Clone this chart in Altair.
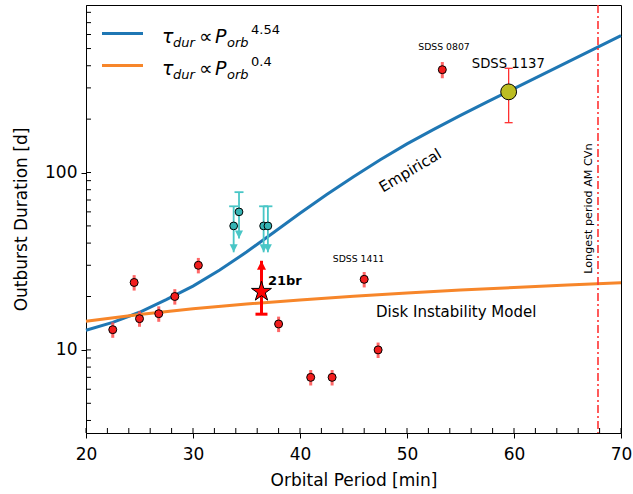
import altair as alt
import pandas as pd

# ---------------- data ----------------
curve_P = [20, 22.5, 25, 27.5, 30, 32.5, 35, 37.5, 40, 42.5, 45, 47.5, 50,
           52.5, 55, 57.5, 60, 62.5, 65, 67.5, 70]
empirical_tau = [12.9, 14.3, 16.3, 19.2, 22.9, 28.2, 35.6, 45.8, 58.9, 75.2, 94.8,
                 118, 145, 175, 210, 250, 297, 353, 419, 498, 592]
dim_P = [20, 25, 30, 35, 40, 45, 50, 55, 60, 65, 70]
dim_tau = [14.5, 15.85, 17.05, 18.14, 19.13, 20.06, 20.92, 21.73, 22.50, 23.23, 23.93]

obs_P = [22.5, 24.5, 25.0, 26.8, 28.3, 30.5, 38.0, 41.0, 43.0, 46.0, 47.3, 53.3]
obs_tau = [13, 24, 15, 16, 20, 30, 14, 7, 7, 25, 10, 380]
obs_err = [1.3, 2.4, 1.5, 1.6, 2.0, 3.0, 1.4, 0.7, 0.7, 2.5, 1.0, 40]

lim_P = [33.8, 34.3, 36.6, 37.0]
lim_tau = [50, 60, 50, 50]
lim_err = [14.5, 17.5, 14.5, 14.5]

star_P = [36.4]
star_tau = [21.3]
star_lo = [15.9]
star_hi = [31.8]

s1137_P = [59.5]
s1137_tau = [285]
s1137_lo = [191]
s1137_hi = [387]

amcvn_P = [67.85]

x_major = [20, 30, 40, 50, 60, 70]
x_minor = [20, 22, 24, 26, 28, 30, 32, 34, 36, 38, 40, 42, 44, 46, 48, 50,
           52, 54, 56, 58, 60, 62, 64, 66, 68, 70]
y_major = [10, 100]
y_minor = [4, 5, 6, 7, 8, 9, 10, 20, 30, 40, 50, 60, 70, 80, 90, 100,
           200, 300, 400, 500, 600, 700, 800]

ann_text = ["SDSS 0807", "SDSS 1137", "SDSS 1411", "21br", "Empirical",
            "Disk Instability Model", "Longest period AM CVn"]
ann_P = [53.46, 59.47, 45.47, 37.0, 50.3, 47.1, 67.0]
ann_tau = [489, 390, 31.5, 23.3, 102.6, 15.4, 62.6]

# ---------------- tables ----------------
emp = pd.DataFrame({"P": curve_P, "tau": empirical_tau})
dim = pd.DataFrame({"P": dim_P, "tau": dim_tau})
obs = pd.DataFrame({"P": obs_P, "tau": obs_tau, "err": obs_err})
obs["lo"] = obs["tau"] - obs["err"]
obs["hi"] = obs["tau"] + obs["err"]
lim = pd.DataFrame({"P": lim_P, "tau": lim_tau, "err": lim_err})
lim["lo"] = lim["tau"] - lim["err"]
lim["hi"] = lim["tau"] + lim["err"]
star = pd.DataFrame({"P": star_P, "tau": star_tau, "lo": star_lo, "hi": star_hi})
s1137 = pd.DataFrame({"P": s1137_P, "tau": s1137_tau, "lo": s1137_lo, "hi": s1137_hi})
amcvn = pd.DataFrame({"P": amcvn_P})
xmin_df = pd.DataFrame({"P": x_minor})
ymin_df = pd.DataFrame({"tau": y_minor})
ann = pd.DataFrame({"P": ann_P, "tau": ann_tau, "label": ann_text})
one = pd.DataFrame({"a": [0]})

FONT = "DejaVu Sans"
W, H = 535, 428
xs = alt.Scale(domain=[20, 70], nice=False, zero=False, padding=0)
ys = alt.Scale(type="log", domain=[3.4, 880], nice=False, padding=0)

STAR = ("M0,-1L0.2245,-0.309L0.9511,-0.309L0.3633,0.118L0.5878,0.809L0,0.382"
        "L-0.5878,0.809L-0.3633,0.118L-0.9511,-0.309L-0.2245,-0.309Z")

x_axis = alt.Axis(values=x_major, format="d", title="Orbital Period [min]", grid=False,
                  labelFont=FONT, titleFont=FONT, labelFontSize=17, titleFontSize=17,
                  titleFontWeight="normal", labelColor="black", titleColor="black",
                  domainColor="black", tickColor="black", tickSize=5, tickWidth=1,
                  labelPadding=8, titlePadding=10, labelFlush=False)
y_axis = alt.Axis(values=y_major, format="d", title="Outburst Duration [d]", grid=False,
                  labelFont=FONT, titleFont=FONT, labelFontSize=17, titleFontSize=17,
                  titleFontWeight="normal", labelColor="black", titleColor="black",
                  domainColor="black", tickColor="black", tickSize=5, tickWidth=1,
                  labelPadding=4, titlePadding=14, labelFlush=False)


def X(f="P"):
    return alt.X(f"{f}:Q", scale=xs, axis=x_axis, title="Orbital Period [min]")


def Y(f="tau"):
    return alt.Y(f"{f}:Q", scale=ys, axis=y_axis, title="Outburst Duration [d]")


BLUE = "#1f77b4"
ORANGE = "#f7862a"

# lines
emp_line = alt.Chart(emp).mark_line(color=BLUE, strokeWidth=3).encode(x=X(), y=Y())
dim_line = alt.Chart(dim).mark_line(color=ORANGE, strokeWidth=3).encode(x=X(), y=Y())

vline = alt.Chart(amcvn).mark_rule(color="#ff3333", strokeWidth=1.6,
                                   strokeDash=[8, 3, 2, 3]).encode(x=X())

# observed outbursts
obs_bar = alt.Chart(obs).mark_rule(color="#ff4d4d", strokeWidth=3, opacity=0.85).encode(
    x=X(), y=Y("lo"), y2="hi")
obs_pts = alt.Chart(obs).mark_point(shape="circle", filled=True, fill="#f21d1d",
                                    stroke="black", strokeWidth=1, size=64,
                                    opacity=1).encode(x=X(), y=Y())

# upper limits (cyan)
CY = "#49c6c6"
lim_bar = alt.Chart(lim).mark_rule(color=CY, strokeWidth=1.8).encode(
    x=X(), y=Y("lo"), y2="hi")
lim_cap = alt.Chart(lim).mark_point(shape="M -1 0 L 1 0", filled=False, stroke=CY,
                                    strokeWidth=1.8, size=81, opacity=1).encode(
    x=X(), y=Y("hi"))
lim_arrow = alt.Chart(lim).mark_point(shape="M -1 -1 L 1 -1 L 0 1 Z", filled=True,
                                      fill=CY, strokeWidth=0, size=64, opacity=1,
                                      yOffset=-4).encode(x=X(), y=Y("lo"))
lim_pts = alt.Chart(lim).mark_point(shape="circle", filled=True, fill="#35b4b4",
                                    stroke="black", strokeWidth=1, size=60,
                                    opacity=1).encode(x=X(), y=Y())

# SDSS 1137
s_bar = alt.Chart(s1137).mark_rule(color="#ff3030", strokeWidth=1.3).encode(
    x=X(), y=Y("lo"), y2="hi")
s_cap_lo = alt.Chart(s1137).mark_point(shape="M -1 0 L 1 0", filled=False,
                                       stroke="#ff3030", strokeWidth=1.3, size=64,
                                       opacity=1).encode(x=X(), y=Y("lo"))
s_cap_hi = alt.Chart(s1137).mark_point(shape="M -1 0 L 1 0", filled=False,
                                       stroke="#ff3030", strokeWidth=1.3, size=64,
                                       opacity=1).encode(x=X(), y=Y("hi"))
s_pt = alt.Chart(s1137).mark_point(shape="circle", filled=True, fill="#bcbd22",
                                   stroke="black", strokeWidth=1, size=250,
                                   opacity=1).encode(x=X(), y=Y())

# 21br
st_bar = alt.Chart(star).mark_rule(color="#ff0000", strokeWidth=3).encode(
    x=X(), y=Y("lo"), y2="hi")
st_cap = alt.Chart(star).mark_point(shape="M -1 0 L 1 0", filled=False, stroke="#ff0000",
                                    strokeWidth=3, size=144, opacity=1).encode(
    x=X(), y=Y("lo"))
st_arrow = alt.Chart(star).mark_point(shape="M -1 1 L 1 1 L 0 -1 Z", filled=True,
                                      fill="#ff0000", strokeWidth=0, size=81, opacity=1,
                                      yOffset=4.5).encode(x=X(), y=Y("hi"))
st_pt = alt.Chart(star).mark_point(shape=STAR, filled=True, fill="#ff0000",
                                   stroke="black", strokeWidth=1, size=440,
                                   opacity=1).encode(x=X(), y=Y())

# inward ticks
TL = 5
xin = alt.Chart(xmin_df).mark_rule(color="black", strokeWidth=1).encode(
    x=X(), y=alt.value(H), y2=alt.value(H - TL))
yin = alt.Chart(ymin_df).mark_rule(color="black", strokeWidth=1).encode(
    y=Y(), x=alt.value(0), x2=alt.value(TL))


def ann_layer(i, size, weight="normal", align="center", baseline="alphabetic", angle=0):
    return alt.Chart(ann.iloc[[i]]).mark_text(
        font=FONT, fontSize=size, fontWeight=weight, align=align, baseline=baseline,
        angle=angle, color="black").encode(x=X(), y=Y(), text="label:N")


anns = [
    ann_layer(0, 9.3),
    ann_layer(1, 13.2),
    ann_layer(2, 9.3),
    ann_layer(3, 13, weight="bold", align="left"),
    ann_layer(4, 15, baseline="middle", angle=329),
    ann_layer(5, 15, align="left"),
    ann_layer(6, 11.2, baseline="middle", angle=270),
]


def txt(s, x, y, size, style="normal"):
    return alt.Chart(one).mark_text(text=s, font=FONT, fontSize=size, fontStyle=style,
                                    align="left", baseline="alphabetic",
                                    color="black").encode(x=alt.value(x), y=alt.value(y))


def legend_row(color, y_line, sup):
    base = y_line + 9
    return [
        alt.Chart(one).mark_rule(color=color, strokeWidth=3).encode(
            x=alt.value(16), x2=alt.value(57), y=alt.value(y_line)),
        txt("τ", 76, base, 19, "italic"),
        txt("dur", 87, base + 4, 13, "italic"),
        txt("∝", 113, base, 19),
        txt("P", 129, base, 19, "italic"),
        txt("orb", 141, base + 4, 13, "italic"),
        txt(sup, 165, base - 9, 13),
    ]


legend = legend_row(BLUE, 28.5, "4.54") + legend_row(ORANGE, 60.5, "0.4")

chart = alt.layer(
    emp_line, dim_line, vline,
    obs_bar, lim_bar, s_bar, s_cap_lo, s_cap_hi, st_bar, st_cap, st_arrow,
    lim_cap, lim_arrow,
    obs_pts, lim_pts, s_pt, st_pt,
    xin, yin,
    *anns, *legend,
).properties(
    width=W, height=H,
    padding={"left": 86, "top": 5, "right": 12, "bottom": 61},
    autosize=alt.AutoSizeParams(type="none"),
    background="white",
).configure_view(stroke="black", strokeWidth=1)

chart.save("out.html", embed_options={"renderer": "svg", "actions": False})
